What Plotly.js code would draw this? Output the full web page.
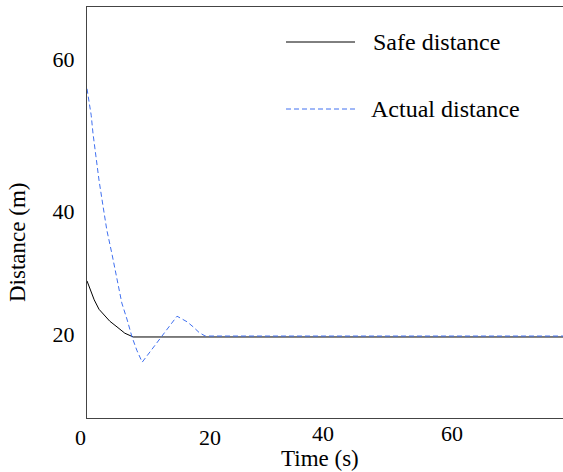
<!DOCTYPE html>
<html>
<head>
<meta charset="utf-8">
<script src="https://cdn.plot.ly/plotly-3.0.1.min.js"></script>
<style>html,body{margin:0;padding:0;background:#fff;}#chart{width:563px;height:472px;}</style>
</head>
<body>
<div id="chart"></div>
<script>
// Data (time in s, distance in m)
const safeTime = [0, 0.5, 1.2, 2.0, 2.8, 3.8, 5.0, 6.3, 7.7, 80];
const safeDist = [28.9, 27.6, 25.9, 24.4, 23.5, 22.5, 21.6, 20.6, 20.0, 20.0];
const actualTime = [0, 0.3, 0.7, 1.0, 1.3, 2.0, 2.7, 3.3, 4.2, 5.0, 5.8, 6.7, 7.5, 8.3, 9.2, 15.0, 15.8, 16.7, 17.7, 18.7, 19.7, 80];
const actualDist = [59.4, 57.4, 55.2, 52.3, 49.9, 44.9, 40.6, 37.0, 33.0, 29.0, 25.4, 22.7, 20.0, 17.9, 16.0, 23.3, 22.9, 22.4, 21.6, 20.7, 20.15, 20.15];
const xTickLabels = ['0', '20', '40', '60'];
const yTickLabels = ['20', '40', '60'];
const seriesNames = ['Safe distance', 'Actual distance'];
const xTitle = 'Time (s)';
const yTitle = 'Distance (m)';

const blue = 'rgb(64,112,240)';
const font = 'Liberation Serif, Times New Roman, serif';

// plot-area geometry in pixels (for paper-placed labels)
const L = 87, T = 7, W = 476, H = 411;
const px = v => (v - L) / W;
const py = v => (T + H - v) / H;

const traces = [
  {x: safeTime, y: safeDist, mode: 'lines', name: seriesNames[0],
   line: {color: '#000', width: 1}, showlegend: false},
  {x: actualTime, y: actualDist, mode: 'lines', name: seriesNames[1],
   line: {color: blue, width: 1, dash: '5px,3px'}, showlegend: false}
];

// x tick label anchor pixels (as placed in the reference)
const xTickPos = [[80.7, 437], [210, 437], [323, 433], [452, 433]];

const annotations = xTickLabels.map((t, i) => ({
  xref: 'paper', yref: 'paper', x: px(xTickPos[i][0]), y: py(xTickPos[i][1]),
  text: t, showarrow: false, xanchor: 'center', yanchor: 'middle',
  font: {family: font, size: 22, color: '#000'}
}));

annotations.push(
  {xref: 'paper', yref: 'paper', x: px(371), y: py(42),
   text: seriesNames[0], showarrow: false, xanchor: 'left', yanchor: 'middle',
   font: {family: font, size: 24, color: '#000'}},
  {xref: 'paper', yref: 'paper', x: px(369), y: py(109),
   text: seriesNames[1], showarrow: false, xanchor: 'left', yanchor: 'middle',
   font: {family: font, size: 24, color: '#000'}},
  {xref: 'paper', yref: 'paper', x: px(320), y: py(458),
   text: xTitle, showarrow: false, xanchor: 'center', yanchor: 'middle',
   font: {family: font, size: 23, color: '#000'}},
  {xref: 'paper', yref: 'paper', x: px(18), y: py(243),
   text: yTitle, showarrow: false, xanchor: 'center', yanchor: 'middle', textangle: -90,
   font: {family: font, size: 23, color: '#000'}}
);

const layout = {
  width: 563, height: 472,
  margin: {l: L, r: 0, t: T, b: 472 - T - H},
  paper_bgcolor: '#fff', plot_bgcolor: '#fff',
  font: {family: font, color: '#000', size: 22},
  xaxis: {
    range: [0, 79.33], showgrid: false, zeroline: false,
    showline: true, linecolor: '#444', linewidth: 1, mirror: true,
    showticklabels: false, ticks: ''
  },
  yaxis: {
    range: [7.14, 72.38], showgrid: false, zeroline: false,
    showline: true, linecolor: '#444', linewidth: 1,
    ticks: 'outside', ticklen: 7, tickcolor: 'rgba(0,0,0,0)',
    tickvals: [20.5, 40.0, 64.0], ticktext: yTickLabels,
    tickfont: {family: font, size: 22, color: '#000'}
  },
  shapes: [
    {type: 'line', xref: 'paper', yref: 'paper',
     x0: px(286), x1: px(355), y0: py(42), y1: py(42),
     line: {color: '#000', width: 1}},
    {type: 'line', xref: 'paper', yref: 'paper',
     x0: px(286), x1: px(355), y0: py(109), y1: py(109),
     line: {color: blue, width: 1, dash: '5px,3px'}}
  ],
  annotations: annotations
};

Plotly.newPlot('chart', traces, layout, {displayModeBar: false, staticPlot: true});
</script>
</body>
</html>
